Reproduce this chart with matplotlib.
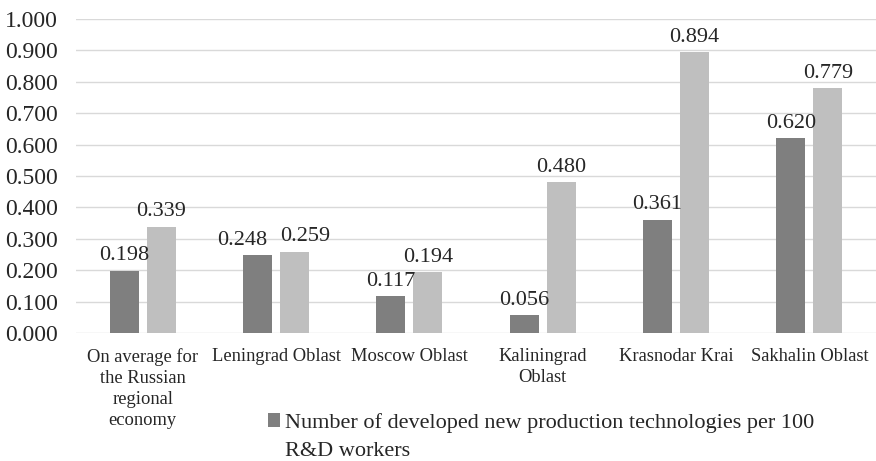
import matplotlib
matplotlib.use("Agg")
import matplotlib.pyplot as plt
import numpy as np

categories = ["On average for\nthe Russian\nregional\neconomy", "Leningrad Oblast", "Moscow Oblast",
              "Kaliningrad\nOblast", "Krasnodar Krai", "Sakhalin Oblast"]
series_dark = [0.198, 0.248, 0.117, 0.056, 0.361, 0.620]
series_light = [0.339, 0.259, 0.194, 0.480, 0.894, 0.779]
legend_lines = ["Number of developed new production technologies per 100", "R&D workers"]
yticks = [0.0, 0.1, 0.2, 0.3, 0.4, 0.5, 0.6, 0.7, 0.8, 0.9, 1.0]

plt.rcParams['font.family'] = ['Liberation Serif', 'DejaVu Serif']

fig = plt.figure(figsize=(8.76, 4.61), dpi=100)
ax = fig.add_axes([76/876, 128/461, 800/876, 314/461])

x = np.arange(len(categories))
w = 0.217
off = 0.139
b1 = ax.bar(x - off, series_dark, w, color="#7f7f7f", zorder=3)
b2 = ax.bar(x + off, series_light, w, color="#bfbfbf", zorder=3)

for i, (r1, r2, v1, v2) in enumerate(zip(b1, b2, series_dark, series_light)):
    close = abs(v1 - v2) < 0.06
    for r, v, nudge in ((r1, v1, -11 if close else 0), (r2, v2, 8 if close else 0)):
        ax.annotate(f"{v:.3f}", (r.get_x() + r.get_width() / 2, v), xytext=(nudge, 4),
                    textcoords="offset points", ha="center", va="bottom", fontsize=16, color="#262626")

ax.set_xlim(-0.5, len(categories) - 0.5)
ax.set_ylim(0, 1.0)
ax.set_yticks(yticks)
ax.set_yticklabels([f"{t:.3f}" for t in yticks], fontsize=17, color="#262626")
ax.set_xticks(x)
ax.set_xticklabels(categories, fontsize=13.3, color="#262626", linespacing=1.3)
ax.tick_params(axis="both", length=0)
ax.tick_params(axis="y", pad=13)
ax.tick_params(axis="x", pad=11)
ax.grid(axis="y", color="#d9d9d9", linewidth=1, zorder=0)
for s in ax.spines.values():
    s.set_visible(False)

leg = fig.legend(handles=[b1], labels=[legend_lines[0]], loc="upper left",
                 bbox_to_anchor=(257/876, 1 - 402/461),
                 frameon=False, fontsize=16, handlelength=0.55, handleheight=0.55, handletextpad=0.2,
                 labelcolor="#262626", borderpad=0)

fig.canvas.draw()
ext = leg.get_texts()[0].get_window_extent()
x0 = ext.x0 / fig.bbox.width
y0 = (ext.y0 - 28) / fig.bbox.height
fig.text(x0, y0, legend_lines[1], fontsize=16, color="#262626", ha="left", va="bottom")

fig.savefig("out.png", dpi=100)
